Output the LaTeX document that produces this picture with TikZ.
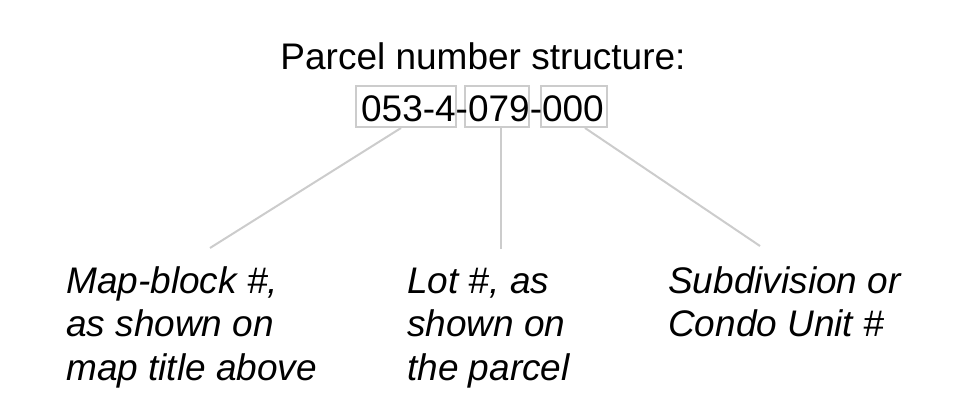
\documentclass[tikz,border=0pt]{standalone}
\usepackage{fontspec}
\setmainfont{Liberation Sans}
\begin{document}
\begin{tikzpicture}[x=1pt,y=-1pt,
  txt/.style={inner sep=0pt, font=\fontsize{37}{43.5}\selectfont},
  itxt/.style={txt, align=left, anchor=base west, font=\fontsize{37}{43.5}\selectfont\itshape},
  segbox/.style={draw=black!20, line width=2pt, inner sep=0pt, minimum height=41pt},
  conn/.style={draw=black!20, line width=2pt}]
\useasboundingbox (0,0) rectangle (978,393);
\node[txt, anchor=base] (title) at (483,70) {Parcel number structure:};
\node[segbox, minimum width=100pt] (b1) at (406,106.5) {};
\node[segbox, minimum width=64pt] (b2) at (497,106.5) {};
\node[segbox, minimum width=66pt] (b3) at (574,106.5) {};
\node[txt, anchor=base] (num) at (482.5,122) {053-4-079-000};
\node[itxt] (t1) at (66,380) {Map-block \#,\\as shown on\\map title above};
\node[itxt] (t2) at (407,380) {Lot \#, as\\shown on\\the parcel};
\node[itxt] (t3) at (668,336.5) {Subdivision or\\Condo Unit \#};
\coordinate (e1) at (210,248);
\coordinate (e2) at (501,249);
\coordinate (e3) at (760,246);
\draw[conn] (b1.south -| 401,0) -- (e1);
\draw[conn] (b2.south -| e2) -- (e2);
\draw[conn] (b3.south -| 585,0) -- (e3);
\end{tikzpicture}
\end{document}
